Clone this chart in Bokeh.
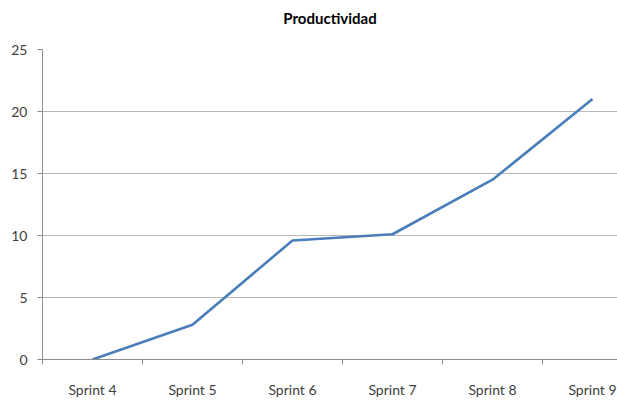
from bokeh.plotting import figure
from bokeh.models import Range1d, FixedTicker, Title
from bokeh.embed import file_html
from bokeh.resources import INLINE

# --- data ---
title_text = "Productividad"
categories = ["Sprint 4", "Sprint 5", "Sprint 6", "Sprint 7", "Sprint 8", "Sprint 9"]
productividad = [0.0, 2.8, 9.6, 10.1, 14.5, 21.0]
y_ticks = [0, 5, 10, 15, 20, 25]

xpos = list(range(len(categories)))
x_start, x_end = -0.5, len(categories) - 0.75
y_start, y_end = 0, 25

p = figure(
    width=617, height=400,
    output_backend="svg", toolbar_location=None,
    x_range=Range1d(x_start, x_end),
    y_range=Range1d(y_start, y_end),
    min_border_left=42, min_border_right=0,
    min_border_top=49, min_border_bottom=35,
)

p.background_fill_color = "white"
p.border_fill_color = "white"
p.outline_line_color = None

# spacer (nearest the plot area) then the chart title above it
p.add_layout(Title(text=" ", text_font_size="19px", standoff=0), "above")
p.add_layout(Title(text=title_text, align="center", standoff=0,
                   text_font="Lato", text_font_size="15px", text_font_style="bold",
                   text_color="#000000"), "above")

p.line(xpos, productividad, line_color="#4a7ebb", line_width=2.6)

# x axis: labels at category centres, tick marks at category boundaries
xa = p.xaxis[0]
xa.ticker = FixedTicker(ticks=xpos, minor_ticks=[i - 0.5 for i in xpos] + [len(xpos) - 0.5])
xa.major_label_overrides = {i: c for i, c in zip(xpos, categories)}
xa.major_tick_out = 0
xa.major_tick_in = 0
xa.minor_tick_out = 5
xa.minor_tick_in = 0
xa.minor_tick_line_color = "#8c8c8c"
xa.axis_line_color = "#8c8c8c"
xa.major_label_text_font = "Lato"
xa.major_label_text_font_size = "14px"
xa.major_label_text_color = "#404040"
xa.major_label_standoff = 16

ya = p.yaxis[0]
ya.ticker = FixedTicker(ticks=y_ticks, minor_ticks=[])
ya.major_tick_out = 5
ya.major_tick_in = 0
ya.major_tick_line_color = "#8c8c8c"
ya.axis_line_color = "#8c8c8c"
ya.major_label_text_font = "Lato"
ya.major_label_text_font_size = "14px"
ya.major_label_text_color = "#404040"
ya.major_label_standoff = 10

p.xgrid.grid_line_color = None
p.ygrid.ticker = FixedTicker(ticks=y_ticks)
p.ygrid.grid_line_color = "#b8b8b8"
p.ygrid.grid_line_width = 1

open("out.html", "w").write(file_html(p, INLINE))
